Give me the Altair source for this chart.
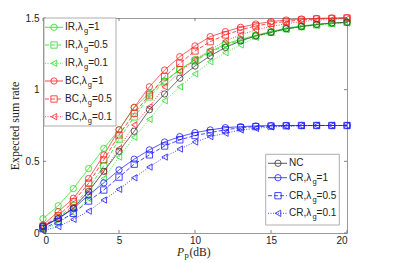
import altair as alt
import pandas as pd

# ---------------- data ----------------
x_db = list(range(21))

ir_1   = [0.10,0.19,0.31,0.45,0.59,0.72,0.875,0.975,1.06,1.14,1.21,1.265,1.32,1.35,1.38,1.405,1.43,1.445,1.455,1.465,1.47]
ir_05  = [0.04,0.11,0.19,0.31,0.47,0.655,0.81,0.95,1.055,1.14,1.20,1.26,1.31,1.345,1.375,1.40,1.425,1.44,1.452,1.462,1.47]
ir_01  = [0.02,0.07,0.14,0.24,0.38,0.53,0.668,0.793,0.923,1.02,1.11,1.195,1.258,1.312,1.365,1.398,1.42,1.44,1.45,1.46,1.465]
bc_1   = [0.056,0.149,0.242,0.38,0.544,0.72,0.877,1.02,1.137,1.23,1.305,1.37,1.405,1.435,1.458,1.475,1.486,1.493,1.497,1.5,1.502]
bc_05  = [0.045,0.12,0.218,0.347,0.51,0.684,0.835,0.963,1.09,1.184,1.27,1.335,1.382,1.417,1.445,1.463,1.476,1.486,1.493,1.497,1.5]
bc_01  = [0.04,0.10,0.18,0.29,0.43,0.59,0.754,0.88,1.02,1.125,1.21,1.277,1.34,1.382,1.417,1.44,1.46,1.475,1.485,1.49,1.495]
nc     = [0.05,0.10,0.175,0.29,0.43,0.57,0.71,0.86,0.97,1.08,1.165,1.235,1.295,1.34,1.375,1.40,1.425,1.44,1.455,1.465,1.47]
cr_1   = [0.044,0.10,0.17,0.265,0.35,0.44,0.515,0.58,0.635,0.672,0.70,0.719,0.735,0.742,0.747,0.749,0.75,0.75,0.75,0.75,0.75]
cr_05  = [0.03,0.08,0.137,0.223,0.30,0.39,0.48,0.545,0.607,0.65,0.68,0.70,0.72,0.735,0.742,0.746,0.748,0.75,0.75,0.75,0.75]
cr_01  = [0.015,0.045,0.095,0.153,0.23,0.305,0.385,0.46,0.53,0.586,0.635,0.672,0.696,0.719,0.73,0.74,0.745,0.748,0.75,0.75,0.75]

series_names = ["IR1", "IR05", "IR01", "BC1", "BC05", "BC01", "NC", "CR1", "CR05", "CR01"]
series_vals = [ir_1, ir_05, ir_01, bc_1, bc_05, bc_01, nc, cr_1, cr_05, cr_01]
series_colors = ["#22dd22", "#22dd22", "#22dd22", "#ff2020", "#ff2020", "#ff2020", "#333333", "#1a1aff", "#1a1aff", "#1a1aff"]
series_dash = [[1, 0], [4, 2], [1, 1.5], [1, 0], [4, 2], [1, 1.5], [1, 0], [1, 0], [4, 2], [1, 1.5]]
series_shape = ["circle", "square", "triangle-left", "circle", "square", "triangle-left", "circle", "circle", "square", "triangle-left"]

legend_prefix = ["IR,λ", "IR,λ", "IR,λ", "BC,λ", "BC,λ", "BC,λ", "NC", "CR,λ", "CR,λ", "CR,λ"]
legend_sub = ["g", "g", "g", "g", "g", "g", "", "g", "g", "g"]
legend_suffix = ["=1", "=0.5", "=0.1", "=1", "=0.5", "=0.1", "", "=1", "=0.5", "=0.1"]

x_ticks = [0, 5, 10, 15, 20]
y_ticks = [0, 0.5, 1, 1.5]

W, H = 304, 215

# ---------------- tables ----------------
rows = []
for name, vals in zip(series_names, series_vals):
    for xv, yv in zip(x_db, vals):
        rows.append({"x": xv, "y": yv, "series": name})
df = pd.DataFrame(rows)

color_scale = alt.Scale(domain=series_names, range=series_colors)
dash_scale = alt.Scale(domain=series_names, range=series_dash)
shape_scale = alt.Scale(domain=series_names, range=series_shape)

xs = alt.Scale(domain=[0, 20], nice=False)
ys = alt.Scale(domain=[0, 1.5], nice=False)

X = alt.X("x:Q", scale=xs,
          axis=alt.Axis(values=x_ticks, ticks=False, domain=False, grid=False,
                        labelFont="Liberation Sans", labelFontSize=10, labelColor="#222",
                        labelPadding=2, title=None))
Y = alt.Y("y:Q", scale=ys,
          axis=alt.Axis(values=y_ticks, ticks=False, domain=False, grid=False, format="~g",
                        labelFont="Liberation Sans", labelFontSize=10, labelColor="#222",
                        labelPadding=4, title="Expected sum rate",
                        titleFont="Liberation Serif", titleFontSize=12, titleFontWeight="normal",
                        titleColor="#222", titleX=-29, titleY=H / 2, titleAngle=-90,
                        titleBaseline="middle", titleAlign="center"))
C = alt.Color("series:N", scale=color_scale, legend=None)

lines = alt.Chart(df).mark_line(strokeWidth=0.8, clip=False).encode(
    x=X, y=Y, color=C,
    strokeDash=alt.StrokeDash("series:N", scale=dash_scale, legend=None))
points = alt.Chart(df).mark_point(filled=False, fillOpacity=0, size=40, strokeWidth=0.8, clip=False).encode(
    x=X, y=Y, color=C,
    shape=alt.Shape("series:N", scale=shape_scale, legend=None))

# inward ticks (all four sides)
xt = pd.DataFrame({"v": x_ticks})
yt = pd.DataFrame({"v": y_ticks})
tick_color = "#666"
xt_bot = alt.Chart(xt).mark_rule(color=tick_color, strokeWidth=0.8).encode(
    x=alt.X("v:Q", scale=xs), y=alt.value(H), y2=alt.value(H - 3))
xt_top = alt.Chart(xt).mark_rule(color=tick_color, strokeWidth=0.8).encode(
    x=alt.X("v:Q", scale=xs), y=alt.value(0), y2=alt.value(3))
yt_left = alt.Chart(yt).mark_rule(color=tick_color, strokeWidth=0.8).encode(
    y=alt.Y("v:Q", scale=ys), x=alt.value(0), x2=alt.value(3))
yt_right = alt.Chart(yt).mark_rule(color=tick_color, strokeWidth=0.8).encode(
    y=alt.Y("v:Q", scale=ys), x=alt.value(W), x2=alt.value(W - 3))

# ---------------- legends (pixel layout) ----------------
def text_w(s, size):
    widths = {"I": 0.278, "R": 0.722, "B": 0.667, "C": 0.722, "N": 0.722, ",": 0.278,
              "λ": 0.62, "g": 0.556, "=": 0.584, "0": 0.556, "1": 0.556, "5": 0.556, ".": 0.278}
    return sum(widths.get(c, 0.55) for c in s) * size

leg_rows = []
left_y = [9.3, 27, 45.3, 63, 81, 98.7]
right_y = [145.3, 159.7, 177.7, 195.3]
for i, name in enumerate(series_names):
    if i < 6:
        ly = left_y[i]; lx1, lx2, mx, tx = 2, 20, 11, 22
    else:
        ly = right_y[i - 6]; lx1, lx2, mx, tx = 225, 244, 235, 246
    wp = text_w(legend_prefix[i], 10)
    leg_rows.append({"series": name, "ly": ly, "lx1": lx1, "lx2": lx2, "mx": mx,
                     "tx": tx, "pre": legend_prefix[i],
                     "gx": tx + wp, "gy": ly + 4, "sub": legend_sub[i],
                     "sx": tx + wp + (text_w("g", 7.5) if legend_sub[i] else 0),
                     "suf": legend_suffix[i]})
leg = pd.DataFrame(leg_rows)

boxes = pd.DataFrame({"x1": [1, 222.7], "x2": [73, 296.3], "y1": [0, 136.3], "y2": [108, 207]})
leg_box = alt.Chart(boxes).mark_rect(fill="white", stroke="#999", strokeWidth=0.8).encode(
    x=alt.X("x1:Q", scale=None), x2="x2:Q", y=alt.Y("y1:Q", scale=None), y2="y2:Q")

lb = alt.Chart(leg)
leg_line = lb.mark_rule(strokeWidth=0.8).encode(
    x=alt.X("lx1:Q", scale=None), x2="lx2:Q", y=alt.Y("ly:Q", scale=None),
    color=C, strokeDash=alt.StrokeDash("series:N", scale=dash_scale, legend=None))
leg_pt = lb.mark_point(filled=False, fillOpacity=0, size=40, strokeWidth=0.8).encode(
    x=alt.X("mx:Q", scale=None), y=alt.Y("ly:Q", scale=None),
    color=C, shape=alt.Shape("series:N", scale=shape_scale, legend=None))
leg_t1 = lb.mark_text(align="left", baseline="middle", font="Liberation Sans", fontSize=10, color="#222").encode(
    x=alt.X("tx:Q", scale=None), y=alt.Y("ly:Q", scale=None), text="pre:N")
leg_t2 = lb.mark_text(align="left", baseline="middle", font="Liberation Sans", fontSize=7.5, color="#222").encode(
    x=alt.X("gx:Q", scale=None), y=alt.Y("gy:Q", scale=None), text="sub:N")
leg_t3 = lb.mark_text(align="left", baseline="middle", font="Liberation Sans", fontSize=10, color="#222").encode(
    x=alt.X("sx:Q", scale=None), y=alt.Y("ly:Q", scale=None), text="suf:N")

# ---------------- x-axis title: P_p(dB) ----------------
tdf = pd.DataFrame({"t": ["P"]})
xt_P = alt.Chart(tdf).mark_text(align="left", baseline="alphabetic", font="Liberation Serif",
                                fontStyle="italic", fontSize=11.5, color="#222").encode(
    x=alt.value(134), y=alt.value(237.5), text=alt.value("P"))
xt_p = alt.Chart(tdf).mark_text(align="left", baseline="alphabetic", font="Liberation Serif",
                                fontSize=8.5, color="#222").encode(
    x=alt.value(141.5), y=alt.value(240), text=alt.value("p"))
xt_dB = alt.Chart(tdf).mark_text(align="left", baseline="alphabetic", font="Liberation Serif",
                                 fontSize=11.5, color="#222").encode(
    x=alt.value(146.5), y=alt.value(237.5), text=alt.value("(dB)"))

chart = alt.layer(
    lines, points, xt_bot, xt_top, yt_left, yt_right,
    leg_box, leg_line, leg_pt, leg_t1, leg_t2, leg_t3,
    xt_P, xt_p, xt_dB,
).properties(
    width=W, height=H,
    autosize=alt.AutoSizeParams(type="none"),
    padding={"left": 35, "top": 10, "right": 30, "bottom": 28},
    background="white",
).configure_view(stroke="#999", strokeWidth=1)

chart.save("out.html", embed_options={"renderer": "svg", "actions": False})
